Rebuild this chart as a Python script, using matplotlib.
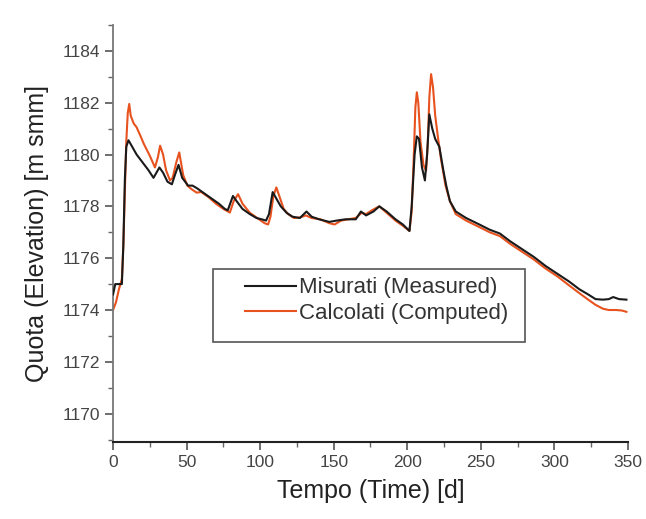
import numpy as np
import matplotlib
matplotlib.use("Agg")
import matplotlib.pyplot as plt
from matplotlib.patches import Rectangle
from matplotlib.ticker import MultipleLocator

plt.rcParams['font.family'] = ['Liberation Sans', 'DejaVu Sans']

# Measured levels (black)
t_meas = [0, 1.5, 6, 7, 8, 9, 10.5, 13, 16, 20, 24, 27.5, 31.5, 34, 37, 40, 42, 44.5,
          47, 51, 54, 57, 62, 67, 72, 76, 78, 81.5, 84, 88, 93, 97.5, 101, 104, 106,
          108.5, 111, 114, 118, 122, 127, 131.5, 135, 140, 147, 152, 158, 165, 168.5,
          172, 177, 181, 186, 192, 197, 201.5, 203, 205, 206.5, 208, 210, 212, 213.5,
          215, 217, 219, 221.8, 224.5, 226.5, 229, 233, 240, 249, 256, 263, 270, 278,
          286, 294, 302, 310, 317, 323, 328, 333, 337, 340, 344, 349]
z_meas = [1174.6, 1175.0, 1175.0, 1176.5, 1179.0, 1180.3, 1180.55, 1180.3, 1180.0,
          1179.7, 1179.4, 1179.1, 1179.5, 1179.3, 1178.95, 1178.85, 1179.2, 1179.6,
          1179.1, 1178.8, 1178.8, 1178.7, 1178.5, 1178.3, 1178.1, 1177.9, 1177.85,
          1178.4, 1178.2, 1177.9, 1177.7, 1177.55, 1177.5, 1177.45, 1177.7, 1178.55,
          1178.3, 1178.0, 1177.75, 1177.6, 1177.55, 1177.8, 1177.6, 1177.5, 1177.4,
          1177.45, 1177.5, 1177.5, 1177.8, 1177.65, 1177.8, 1178.0, 1177.8, 1177.5,
          1177.3, 1177.05, 1178.0, 1180.0, 1180.7, 1180.6, 1179.5, 1179.0, 1180.0,
          1181.55, 1181.0, 1180.6, 1180.3, 1179.4, 1178.8, 1178.2, 1177.8, 1177.55,
          1177.3, 1177.1, 1176.95, 1176.65, 1176.35, 1176.05, 1175.7, 1175.4, 1175.1,
          1174.8, 1174.6, 1174.42, 1174.4, 1174.42, 1174.5, 1174.42, 1174.4]

# Computed levels (orange)
t_calc = [0, 2, 4, 6, 7, 8, 9, 10, 11, 12, 14, 16, 18, 21, 25, 28.5, 30.5, 32, 34, 36,
          38.7, 40.5, 43, 45, 47.7, 50.5, 53.4, 56.8, 60, 65, 70, 75, 79.4, 82, 85, 88,
          93, 98, 103, 105.4, 107, 109, 111, 113, 116, 119, 123, 127, 131, 135, 141,
          147, 150.6, 155, 160, 165, 169, 172, 176, 181, 186, 192, 197, 201.5, 203,
          204.5, 205.5, 206.5, 207.5, 209, 211, 212.8, 214, 215, 216.2, 217.5, 219,
          221, 223, 226, 229, 233, 240, 249, 256, 263, 270, 278, 286, 294, 302, 310,
          317, 323, 328, 333, 337, 342, 346, 349]
z_calc = [1174.0, 1174.3, 1174.8, 1175.2, 1176.5, 1178.5, 1180.5, 1181.6, 1181.95,
          1181.5, 1181.2, 1181.05, 1180.8, 1180.4, 1179.95, 1179.5, 1179.9, 1180.34,
          1180.0, 1179.4, 1179.0, 1179.1, 1179.7, 1180.08, 1179.2, 1178.8, 1178.66,
          1178.53, 1178.55, 1178.35, 1178.1, 1177.9, 1177.76, 1178.2, 1178.47, 1178.1,
          1177.75, 1177.55, 1177.35, 1177.3, 1177.6, 1178.4, 1178.73, 1178.4, 1177.9,
          1177.7, 1177.55, 1177.57, 1177.65, 1177.55, 1177.5, 1177.35, 1177.3, 1177.45,
          1177.5, 1177.55, 1177.75, 1177.7, 1177.85, 1178.0, 1177.75, 1177.45, 1177.25,
          1177.05, 1177.8, 1180.0, 1181.8, 1182.4, 1182.0, 1180.5, 1179.6, 1179.37,
          1180.5, 1182.2, 1183.1, 1182.6, 1181.5, 1180.6, 1179.8, 1178.8, 1178.2,
          1177.7, 1177.45, 1177.2, 1177.0, 1176.85, 1176.55, 1176.25, 1175.95, 1175.6,
          1175.3, 1174.95, 1174.65, 1174.4, 1174.2, 1174.05, 1174.0, 1174.0, 1173.98,
          1173.93]

labels = ['Misurati (Measured)', 'Calcolati (Computed)']
colors = ['#1a1a1a', '#e8521f']

fig = plt.figure(figsize=(6.46, 5.19), dpi=100)
ax = fig.add_axes([0.175, 0.148, 0.797, 0.804])

ax.plot(t_meas, z_meas, color=colors[0], linewidth=1.5, label=labels[0], zorder=3)
ax.plot(t_calc, z_calc, color=colors[1], linewidth=1.5, label=labels[1], zorder=2)

ax.set_xlim(0, 350)
ax.set_ylim(1168.9, 1185)
ax.xaxis.set_major_locator(MultipleLocator(50))
ax.xaxis.set_minor_locator(MultipleLocator(25))
ax.yaxis.set_major_locator(MultipleLocator(2))
ax.yaxis.set_minor_locator(MultipleLocator(1))

for side in ['top', 'right']:
    ax.spines[side].set_visible(False)
ax.spines['left'].set_color('#777777')
ax.spines['bottom'].set_color('#222222')
ax.spines['left'].set_linewidth(1.3)
ax.spines['bottom'].set_linewidth(1.5)

ax.tick_params(axis='both', which='major', direction='out', length=6, width=1.2,
               labelsize=12.5, labelcolor='#444444', color='#555555', pad=3)
ax.tick_params(axis='both', which='minor', direction='out', length=3.5, width=1.0,
               color='#666666')

ax.set_xlabel('Tempo (Time) [d]', fontsize=18, color='#222222', labelpad=7)
ax.set_ylabel('Quota (Elevation) [m smm]', fontsize=18, color='#222222', labelpad=10)

# legend box drawn by hand, entries placed inside without frame
ax.add_patch(Rectangle((0.194, 0.24), 0.606, 0.175, transform=ax.transAxes,
                       fill=False, edgecolor='#555555', linewidth=1.2, zorder=4))
ax.legend(loc='upper left', bbox_to_anchor=(0.256, 0.395), frameon=False,
          fontsize=16, handlelength=2.3, handletextpad=0.15, borderpad=0,
          borderaxespad=0, labelspacing=0.2, labelcolor='#333333')

fig.savefig('out.png', dpi=100)
